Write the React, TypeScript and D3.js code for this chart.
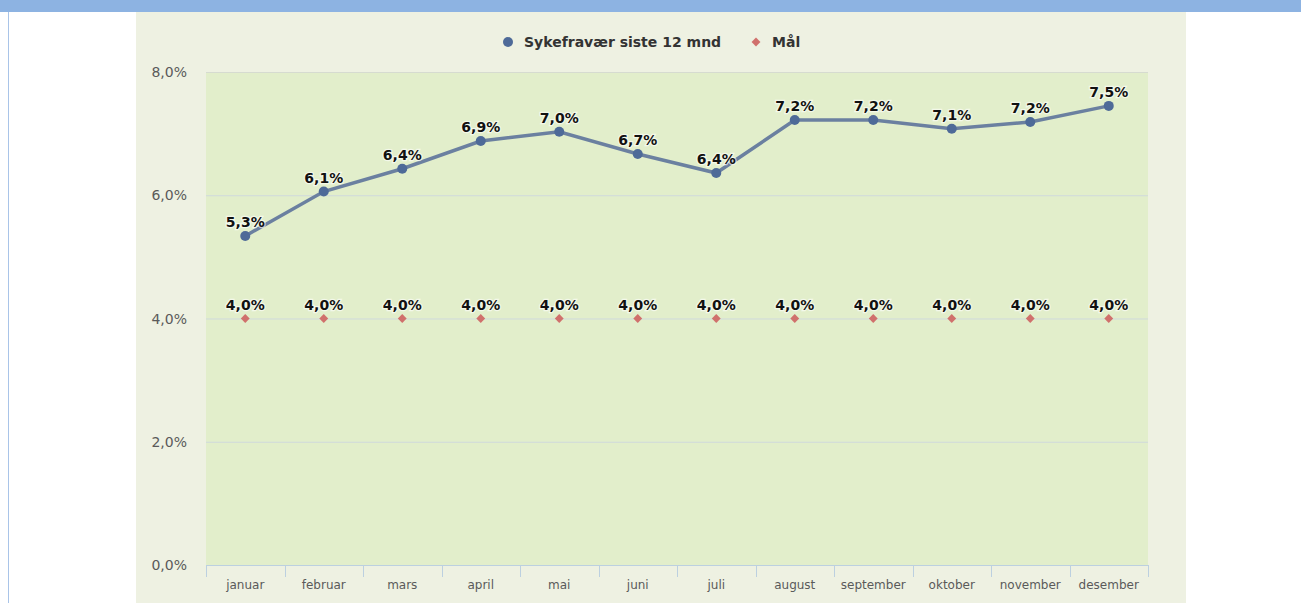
import { useEffect, useRef } from 'react'
import * as d3 from 'd3'

const months = ['januar', 'februar', 'mars', 'april', 'mai', 'juni', 'juli', 'august', 'september', 'oktober', 'november', 'desember']
const sickLeave = [5.34, 6.06, 6.43, 6.88, 7.03, 6.67, 6.36, 7.22, 7.22, 7.08, 7.19, 7.45]
const target = [4, 4, 4, 4, 4, 4, 4, 4, 4, 4, 4, 4]
const yTicks = [0, 2, 4, 6, 8]

const fmt = (v: number) => v.toFixed(1).replace('.', ',') + '%'

export default function App() {
  const svgRef = useRef<SVGSVGElement>(null)

  useEffect(() => {
    if (!svgRef.current) return
    const svg = d3.select(svgRef.current)
    svg.selectAll('*').remove()

    const width = 1301
    const height = 603
    const font = 'DejaVu Sans, Verdana, sans-serif'

    // page chrome
    svg.append('rect').attr('width', width).attr('height', height).attr('fill', '#fff')
    svg.append('rect').attr('x', 0).attr('y', 0).attr('width', width).attr('height', 12).attr('fill', '#8db3e2')
    svg.append('line').attr('x1', 8.5).attr('x2', 8.5).attr('y1', 12).attr('y2', height).attr('stroke', '#a9c4e8')
    svg.append('rect').attr('x', 136).attr('y', 12).attr('width', 1050).attr('height', height - 12).attr('fill', '#eef1e2')

    const margin = { left: 206, right: 1148, top: 72, bottom: 565 }

    const x = d3.scaleBand().domain(months).range([margin.left, margin.right])
    const y = d3.scaleLinear().domain([0, 8]).range([margin.bottom, margin.top])
    const cx = (m: string) => (x(m) || 0) + x.bandwidth() / 2

    svg.append('rect')
      .attr('x', margin.left).attr('y', margin.top)
      .attr('width', margin.right - margin.left).attr('height', margin.bottom - margin.top)
      .attr('fill', '#e2eecb')

    // grid
    svg.append('g').selectAll('line').data(yTicks.filter((t) => t > 0)).enter().append('line')
      .attr('x1', margin.left).attr('x2', margin.right)
      .attr('y1', (d) => y(d) + 0.5).attr('y2', (d) => y(d) + 0.5)
      .attr('stroke', (d) => (d === 8 ? '#d6dbd0' : '#cfd9dc')).attr('stroke-width', 1)

    svg.append('g').selectAll('text').data(yTicks).enter().append('text')
      .attr('x', 187).attr('y', (d) => y(d) + 5)
      .attr('text-anchor', 'end').attr('font-family', font).attr('font-size', 14)
      .attr('fill', '#5a5a5a').text(fmt)

    // x axis
    svg.append('line').attr('x1', margin.left).attr('x2', margin.right)
      .attr('y1', margin.bottom + 0.5).attr('y2', margin.bottom + 0.5).attr('stroke', '#bcd0e0')
    const edges = months.map((m) => x(m) || 0).concat([margin.right])
    svg.append('g').selectAll('line').data(edges).enter().append('line')
      .attr('x1', (d) => Math.round(d) + 0.5).attr('x2', (d) => Math.round(d) + 0.5)
      .attr('y1', margin.bottom).attr('y2', margin.bottom + 12).attr('stroke', '#bcd0e0')
    svg.append('g').selectAll('text').data(months).enter().append('text')
      .attr('x', cx).attr('y', 589).attr('text-anchor', 'middle')
      .attr('font-family', font).attr('font-size', 12).attr('fill', '#5a5a5a').text((d) => d)

    // target series
    svg.append('g').selectAll('path').data(target).enter().append('path')
      .attr('d', d3.symbol().type(d3.symbolDiamond2).size(50)())
      .attr('transform', (d, i) => `translate(${cx(months[i])},${y(d)})`)
      .attr('fill', '#d0706c')

    // sick leave line
    const line = d3.line<number>().x((_, i) => cx(months[i])).y((d) => y(d))
    svg.append('path').datum(sickLeave).attr('d', line)
      .attr('fill', 'none').attr('stroke', '#6b80a0').attr('stroke-width', 3.5)
    svg.append('g').selectAll('circle').data(sickLeave).enter().append('circle')
      .attr('cx', (_, i) => cx(months[i])).attr('cy', (d) => y(d)).attr('r', 5)
      .attr('fill', '#4e6a98')

    // data labels
    const label = (vals: number[]) =>
      svg.append('g').selectAll('text').data(vals).enter().append('text')
        .attr('x', (_, i) => cx(months[i])).attr('y', (d) => y(d) - 9)
        .attr('text-anchor', 'middle').attr('font-family', font).attr('font-size', 14)
        .attr('font-weight', 'bold').attr('fill', '#111')
        .attr('stroke', '#ffffff').attr('stroke-opacity', 0.6).attr('stroke-width', 2.5)
        .attr('paint-order', 'stroke').text((d) => fmt(Math.round(d * 10) / 10))
    label(sickLeave)
    label(target)

    // legend
    svg.append('circle').attr('cx', 508).attr('cy', 42).attr('r', 5).attr('fill', '#4e6a98')
    svg.append('text').attr('x', 524).attr('y', 47).attr('font-family', font).attr('font-size', 14)
      .attr('font-weight', 'bold').attr('fill', '#333').text('Sykefravær siste 12 mnd')
    svg.append('path').attr('d', d3.symbol().type(d3.symbolDiamond2).size(50)())
      .attr('transform', 'translate(756,42)').attr('fill', '#d0706c')
    svg.append('text').attr('x', 772).attr('y', 47).attr('font-family', font).attr('font-size', 14)
      .attr('font-weight', 'bold').attr('fill', '#333').text('Mål')
  }, [])

  return (
    <svg ref={svgRef} width={1301} height={603} viewBox="0 0 1301 603"
      style={{ position: 'absolute', left: 0, top: 0, display: 'block' }} />
  )
}
